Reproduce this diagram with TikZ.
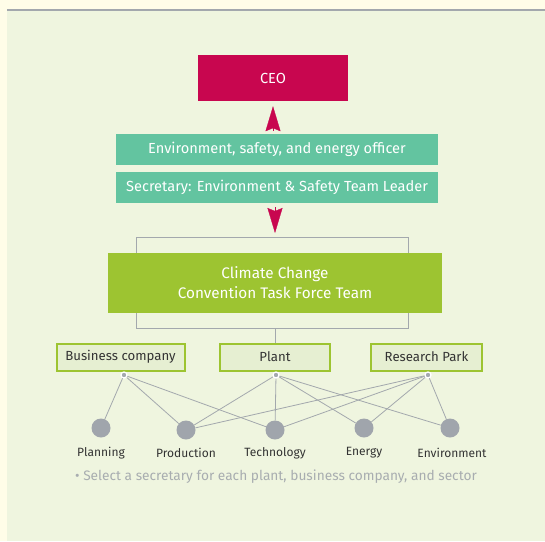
\documentclass[tikz,border=0pt]{standalone}
\usepackage{fontspec}
\setmainfont{Fira Sans}
\usetikzlibrary{arrows.meta}
\definecolor{ceored}{HTML}{C8064F}
\definecolor{teal}{HTML}{63C4A0}
\definecolor{leaf}{HTML}{9DC431}
\definecolor{pale}{HTML}{E6EFD2}
\definecolor{bg}{HTML}{EFF5DF}
\definecolor{cream}{HTML}{FFFDE8}
\definecolor{wire}{HTML}{A3A8AD}
\definecolor{dotgray}{HTML}{A0A5AC}
\definecolor{ink}{HTML}{333333}
\definecolor{note}{HTML}{A8ADB0}
\begin{document}
\begin{tikzpicture}[x=1pt, y=-1pt,
  solid box/.style={fill=#1, text=white, inner sep=0pt, align=center, font=\fontsize{14.6}{20}\selectfont},
  unit box/.style={fill=pale, draw=leaf, line width=2pt, text=ink, inner sep=0pt, minimum height=27pt, font=\fontsize{13.2}{15}\selectfont},
  hub/.style={circle, fill=wire, draw=white, line width=1.3pt, inner sep=0pt, minimum size=6pt},
  task/.style={circle, fill=dotgray, inner sep=0pt, minimum size=19pt},
  task label/.style={text=ink, font=\fontsize{12}{14}\selectfont},
  wire line/.style={draw=wire, line width=0.8pt},
  head/.style={ceored, line width=0.3pt, -{Stealth[length=25pt, width=15pt, inset=3pt]}}]
  \useasboundingbox (0,0) rectangle (545,541);
  % page background
  \fill[cream] (0,0) rectangle (545,541);
  \fill[bg] (7,11) rectangle (545,541);
  \fill[wire] (7,8.5) rectangle (545,11.3);
  % top of the chart
  \node[solid box=ceored, minimum width=150pt, minimum height=46pt] (ceo) at (273,78) {CEO};
  \node[solid box=teal, minimum width=322pt, minimum height=31pt] (officer) at (277,149.5) {Environment, safety, and energy officer};
  \node[solid box=teal, minimum width=322pt, minimum height=31pt] (secretary) at (277,187.5) {Secretary: Environment \& Safety Team Leader};
  % task force team and its bracket
  \draw[wire line] (136,328) |- (408,237) -- (408,328) -- (136,328);
  \coordinate (tf top) at (275,237);
  \coordinate (tf bottom) at (275,328);
  \node[solid box=leaf, minimum width=334pt, minimum height=60pt, font=\fontsize{15.3}{20}\selectfont] (tf) at (275,282.5) {Climate Change\\Convention Task Force Team};
  \draw[head, shorten <=3pt, shorten >=5pt] (officer.north -| ceo) -- (ceo.south);
  \draw[head, shorten <=4pt, shorten >=4pt] (secretary.south -| tf top) -- (tf top);
  % units
  \node[unit box, minimum width=128pt] (biz) at (120.5,357) {Business company};
  \node[unit box, minimum width=110pt] (plant) at (275,357) {Plant};
  \node[unit box, minimum width=111pt] (park) at (426.5,357) {Research Park};
  \draw[wire line] (tf bottom) -- (plant.north);
  % sectors
  \node[task] (planning) at (101,428) {};
  \node[task] (production) at (186,430) {};
  \node[task] (technology) at (275,430) {};
  \node[task] (energy) at (364,428) {};
  \node[task] (environment) at (450,428) {};
  \node[task label] at (101,453) {Planning};
  \node[task label] at (186,453) {Production};
  \node[task label] at (275,453) {Technology};
  \node[task label] at (364,453) {Energy};
  \node[task label] at (452,453) {Environment};
  % links from units to sectors
  \coordinate (biz hub) at (124,375);
  \coordinate (plant hub) at (276,375);
  \coordinate (park hub) at (428,375);
  \foreach \s in {planning, production, technology}
    \draw[wire line] (biz hub) -- (\s);
  \foreach \s in {production, technology, energy, environment}
    \draw[wire line] (plant hub) -- (\s);
  \foreach \s in {production, technology, energy, environment}
    \draw[wire line] (park hub) -- (\s);
  \node[hub] at (biz hub) {};
  \node[hub] at (plant hub) {};
  \node[hub] at (park hub) {};
  \node[text=note, font=\fontsize{13.7}{16}\selectfont] (footnote) at (276,477) {\textbullet\ Select a secretary for each plant, business company, and sector};
\end{tikzpicture}
\end{document}
